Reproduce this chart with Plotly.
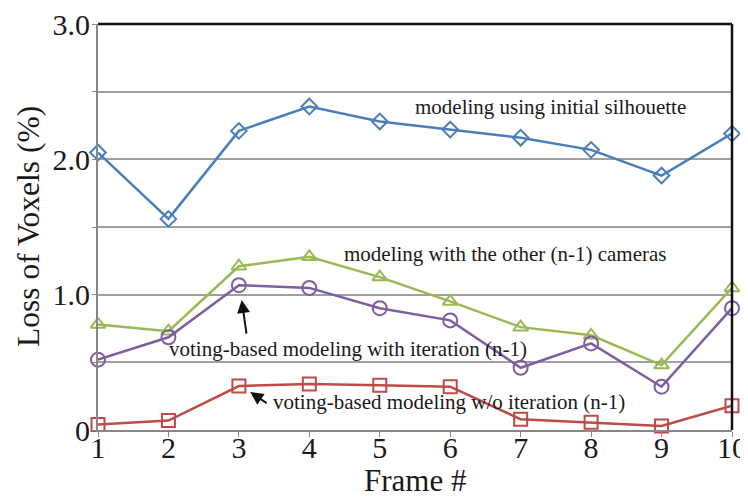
import plotly.graph_objects as go

frames = [1, 2, 3, 4, 5, 6, 7, 8, 9, 10]
initial_silhouette = [2.05, 1.56, 2.21, 2.39, 2.28, 2.22, 2.16, 2.07, 1.88, 2.19]
other_cameras = [0.78, 0.73, 1.21, 1.28, 1.13, 0.95, 0.76, 0.70, 0.48, 1.05]
voting_with_iter = [0.52, 0.685, 1.07, 1.05, 0.90, 0.81, 0.46, 0.64, 0.32, 0.90]
voting_wo_iter = [0.04, 0.07, 0.325, 0.34, 0.33, 0.32, 0.08, 0.057, 0.03, 0.18]

y_tickvals = [0, 0.5, 1.0, 1.5, 2.0, 2.5, 3.0]
y_ticktext = ["0", "", "1.0", "", "2.0", "", "3.0"]

FONT = "Liberation Serif"
TXT = "#1a1a1a"

fig = go.Figure()

series = [
    (initial_silhouette, "#4a7ebb", "diamond-open", 12),
    (other_cameras, "#98b954", "triangle-up-open", 13),
    (voting_with_iter, "#7d5fa0", "circle-open", 14),
    (voting_wo_iter, "#be4b48", "square-open", 13),
]
for vals, col, sym, sz in series:
    fig.add_trace(go.Scatter(
        x=frames, y=vals, mode="lines+markers",
        line=dict(color=col, width=2.5),
        marker=dict(symbol=sym, size=sz, color=col, line=dict(color=col, width=2)),
        cliponaxis=False, showlegend=False,
    ))

ann_font = dict(family=FONT, size=21, color=TXT)
fig.add_annotation(x=7.43, y=2.387, text="modeling using initial silhouette", showarrow=False, font=ann_font)
fig.add_annotation(x=6.78, y=1.30, text="modeling with the other (n-1) cameras", showarrow=False, font=ann_font)
fig.add_annotation(x=4.55, y=0.60, text="voting-based modeling with iteration (n-1)", showarrow=False, font=ann_font)
fig.add_annotation(x=5.98, y=0.207, text="voting-based modeling w/o iteration (n-1)", showarrow=False, font=ann_font)
# arrows (head at x,y; tail offset in pixels)
fig.add_annotation(x=3.04, y=0.96, ax=5, ay=35, text="", showarrow=True,
                   arrowhead=2, arrowsize=1.3, arrowwidth=2, arrowcolor="#111")
fig.add_annotation(x=3.16, y=0.28, ax=18, ay=12, text="", showarrow=True,
                   arrowhead=2, arrowsize=1.3, arrowwidth=2, arrowcolor="#111")

# axis titles
fig.add_annotation(x=0, y=0.5, xref="paper", yref="paper", xshift=-70, textangle=-90,
                   xanchor="center", yanchor="middle",
                   text="Loss of Voxels (%)", showarrow=False,
                   font=dict(family=FONT, size=31.5, color=TXT))
fig.add_annotation(x=0.5, y=0, xref="paper", yref="paper", yshift=-50,
                   xanchor="center", yanchor="middle",
                   text="Frame #", showarrow=False,
                   font=dict(family=FONT, size=31, color=TXT))

# top and right borders
fig.add_shape(type="line", xref="paper", yref="paper", x0=0, x1=1, y0=1, y1=1,
              line=dict(color="#111", width=2.5))
fig.add_shape(type="line", xref="paper", yref="paper", x0=1, x1=1, y0=0, y1=1,
              line=dict(color="#111", width=2.5))

# the page places the figure 8px in from the top-left corner
fig.update_layout(
    width=740, height=489,
    margin=dict(l=90, r=16, t=16, b=67),
    paper_bgcolor="white", plot_bgcolor="white",
    font=dict(family=FONT, color=TXT),
    xaxis=dict(range=[1, 10], tickvals=frames, ticks="outside", ticklen=5, tickcolor="#888",
               showline=True, linecolor="#888", linewidth=2, showgrid=False, zeroline=False,
               automargin=False, ticklabelstandoff=-15, ticklabeloverflow="allow",
               tickfont=dict(family=FONT, size=30, color=TXT)),
    yaxis=dict(range=[0, 3], tickvals=y_tickvals, ticktext=y_ticktext, ticks="outside", ticklen=4,
               tickcolor="#888", showline=True, linecolor="#888", linewidth=2,
               showgrid=True, gridcolor="#a0a0a0", gridwidth=1.5, zeroline=False,
               automargin=False, ticklabelstandoff=-4, ticklabeloverflow="allow",
               tickfont=dict(family=FONT, size=30, color=TXT)),
)

fig.write_html("out.html")
